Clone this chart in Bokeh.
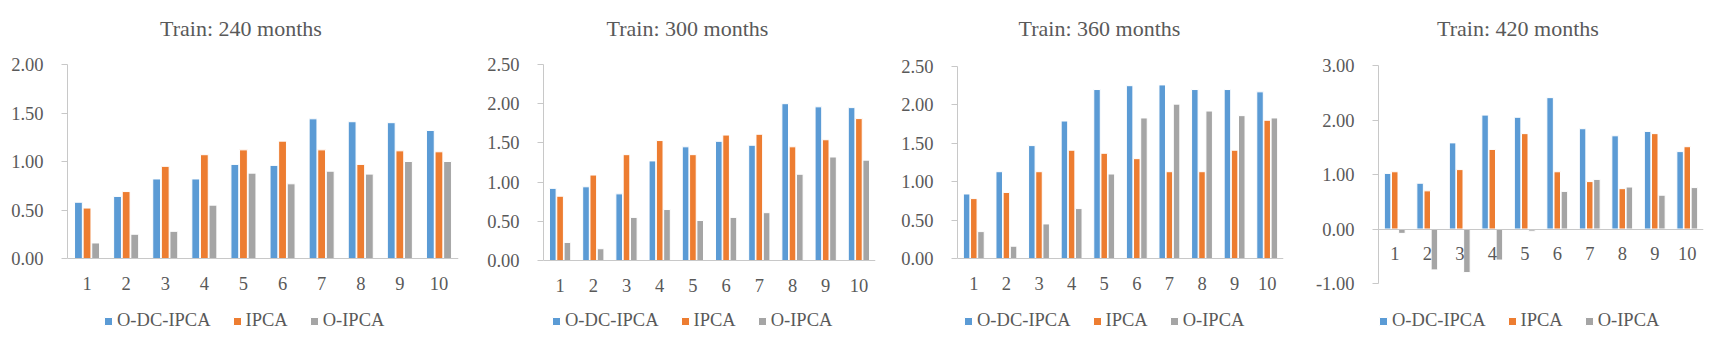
from bokeh.plotting import figure
from bokeh.models import (Range1d, FactorRange, FixedTicker, NumeralTickFormatter,
                          Legend, LegendItem, Label, ColumnDataSource)
from bokeh.transform import dodge
from bokeh.layouts import row
from bokeh.embed import file_html
from bokeh.resources import INLINE

categories = ["1", "2", "3", "4", "5", "6", "7", "8", "9", "10"]
series_names = ["O-DC-IPCA", "IPCA", "O-IPCA"]
titles = ["Train: 240 months", "Train: 300 months", "Train: 360 months", "Train: 420 months"]

# Train 240 months
t240_odc = [0.58, 0.64, 0.82, 0.82, 0.97, 0.96, 1.44, 1.41, 1.40, 1.32]
t240_ipca = [0.52, 0.69, 0.95, 1.07, 1.12, 1.21, 1.12, 0.97, 1.11, 1.10]
t240_oipca = [0.16, 0.25, 0.28, 0.55, 0.88, 0.77, 0.90, 0.87, 1.00, 1.00]
# Train 300 months
t300_odc = [0.92, 0.94, 0.85, 1.27, 1.45, 1.52, 1.47, 2.00, 1.96, 1.95]
t300_ipca = [0.82, 1.09, 1.35, 1.53, 1.35, 1.60, 1.61, 1.45, 1.54, 1.81]
t300_oipca = [0.23, 0.15, 0.55, 0.65, 0.51, 0.55, 0.61, 1.10, 1.32, 1.28]
# Train 360 months
t360_odc = [0.84, 1.13, 1.47, 1.79, 2.20, 2.25, 2.26, 2.20, 2.20, 2.17]
t360_ipca = [0.78, 0.86, 1.13, 1.41, 1.37, 1.30, 1.13, 1.13, 1.41, 1.80]
t360_oipca = [0.35, 0.16, 0.45, 0.65, 1.10, 1.83, 2.01, 1.92, 1.86, 1.83]
# Train 420 months
t420_odc = [1.02, 0.84, 1.58, 2.09, 2.05, 2.41, 1.84, 1.71, 1.79, 1.42]
t420_ipca = [1.05, 0.70, 1.09, 1.46, 1.75, 1.05, 0.87, 0.74, 1.75, 1.51]
t420_oipca = [-0.08, -0.75, -0.80, -0.57, -0.04, 0.69, 0.91, 0.77, 0.62, 0.76]

y_ticks_240 = [0, 0.5, 1.0, 1.5, 2.0]
y_ticks_300 = [0, 0.5, 1.0, 1.5, 2.0, 2.5]
y_ticks_360 = [0, 0.5, 1.0, 1.5, 2.0, 2.5]
y_ticks_420 = [-1.0, 0.0, 1.0, 2.0, 3.0]

COLORS = ["#5B9BD5", "#ED7D31", "#A5A5A5"]
FONT = "Liberation Serif"
TXT = "#595959"
AXC = "#C8C8C8"

# pixel layout: fig width, left border, frame width, px of top tick, px of bottom tick,
# legend x offset, title x offset from frame centre
panels = [
    dict(data=(t240_odc, t240_ipca, t240_oipca), ticks=y_ticks_240, w=465, left=67, fw=391, top_px=64, bot_px=258, lx=36, tdx=-22),
    dict(data=(t300_odc, t300_ipca, t300_oipca), ticks=y_ticks_300, w=425, left=78, fw=332, top_px=64, bot_px=260, lx=8, tdx=-22),
    dict(data=(t360_odc, t360_ipca, t360_oipca), ticks=y_ticks_360, w=400, left=67, fw=326, top_px=66, bot_px=258, lx=6, tdx=-21),
    dict(data=(t420_odc, t420_ipca, t420_oipca), ticks=y_ticks_420, w=435, left=88, fw=325, top_px=65, bot_px=283, lx=0, tdx=-23),
]

H = 349
figs = []
for title, pc in zip(titles, panels):
    ticks = pc["ticks"]
    lo, hi = ticks[0], ticks[-1]
    k = (pc["bot_px"] - pc["top_px"]) / (hi - lo)  # px per unit
    y_start = lo - (H - pc["bot_px"]) / k
    y_end = hi + pc["top_px"] / k

    src = ColumnDataSource(dict(cat=categories, a=pc["data"][0], b=pc["data"][1], c=pc["data"][2]))
    p = figure(width=pc["w"], height=H, x_range=FactorRange(*categories, range_padding=0),
               y_range=Range1d(y_start, y_end), output_backend="svg", toolbar_location=None,
               min_border_left=pc["left"], min_border_right=pc["w"] - pc["left"] - pc["fw"],
               min_border_top=0, min_border_bottom=0)
    p.outline_line_color = None
    p.grid.visible = False
    p.background_fill_color = "white"
    p.border_fill_color = "white"

    renderers = []
    for key, off, col in zip(["a", "b", "c"], [-0.22, 0.0, 0.22], COLORS):
        r = p.vbar(x=dodge("cat", off, range=p.x_range), top=key, bottom=0, width=0.2, source=src,
                   fill_color=col, line_color="white", line_width=1)
        renderers.append(r)

    p.yaxis.ticker = FixedTicker(ticks=ticks)
    p.yaxis.bounds = (lo, hi)
    p.yaxis.formatter = NumeralTickFormatter(format="0.00")
    p.yaxis.axis_line_color = AXC
    p.yaxis.major_tick_line_color = AXC
    p.yaxis.major_tick_out = 6
    p.yaxis.major_tick_in = 0
    p.yaxis.minor_tick_line_color = None
    p.yaxis.major_label_standoff = 18
    p.yaxis.major_label_text_font = FONT
    p.yaxis.major_label_text_font_size = "18.5px"
    p.yaxis.major_label_text_color = TXT

    p.xaxis.fixed_location = 0
    p.xaxis.axis_line_color = AXC
    p.xaxis.major_tick_line_color = None
    p.xaxis.minor_tick_line_color = None
    p.xaxis.major_label_standoff = 12
    p.xaxis.major_label_text_font = FONT
    p.xaxis.major_label_text_font_size = "18.5px"
    p.xaxis.major_label_text_color = TXT

    p.add_layout(Label(x=len(categories) / 2, y=y_end - 28 / k, x_offset=pc["tdx"],
                       text=title, text_font=FONT, text_font_size="22px", text_color=TXT,
                       text_align="center", text_baseline="middle"))

    legend = Legend(items=[LegendItem(label=n, renderers=[r]) for n, r in zip(series_names, renderers)],
                    orientation="horizontal", location=(pc["lx"], 18),
                    glyph_width=10, glyph_height=10, label_standoff=4, spacing=21,
                    padding=0, margin=0, border_line_color=None, background_fill_alpha=0,
                    label_text_font=FONT, label_text_font_size="18.5px", label_text_color=TXT)
    p.add_layout(legend, "center")
    figs.append(p)

layout = row(*figs, spacing=0)
open("out.html", "w").write(file_html(layout, INLINE))
